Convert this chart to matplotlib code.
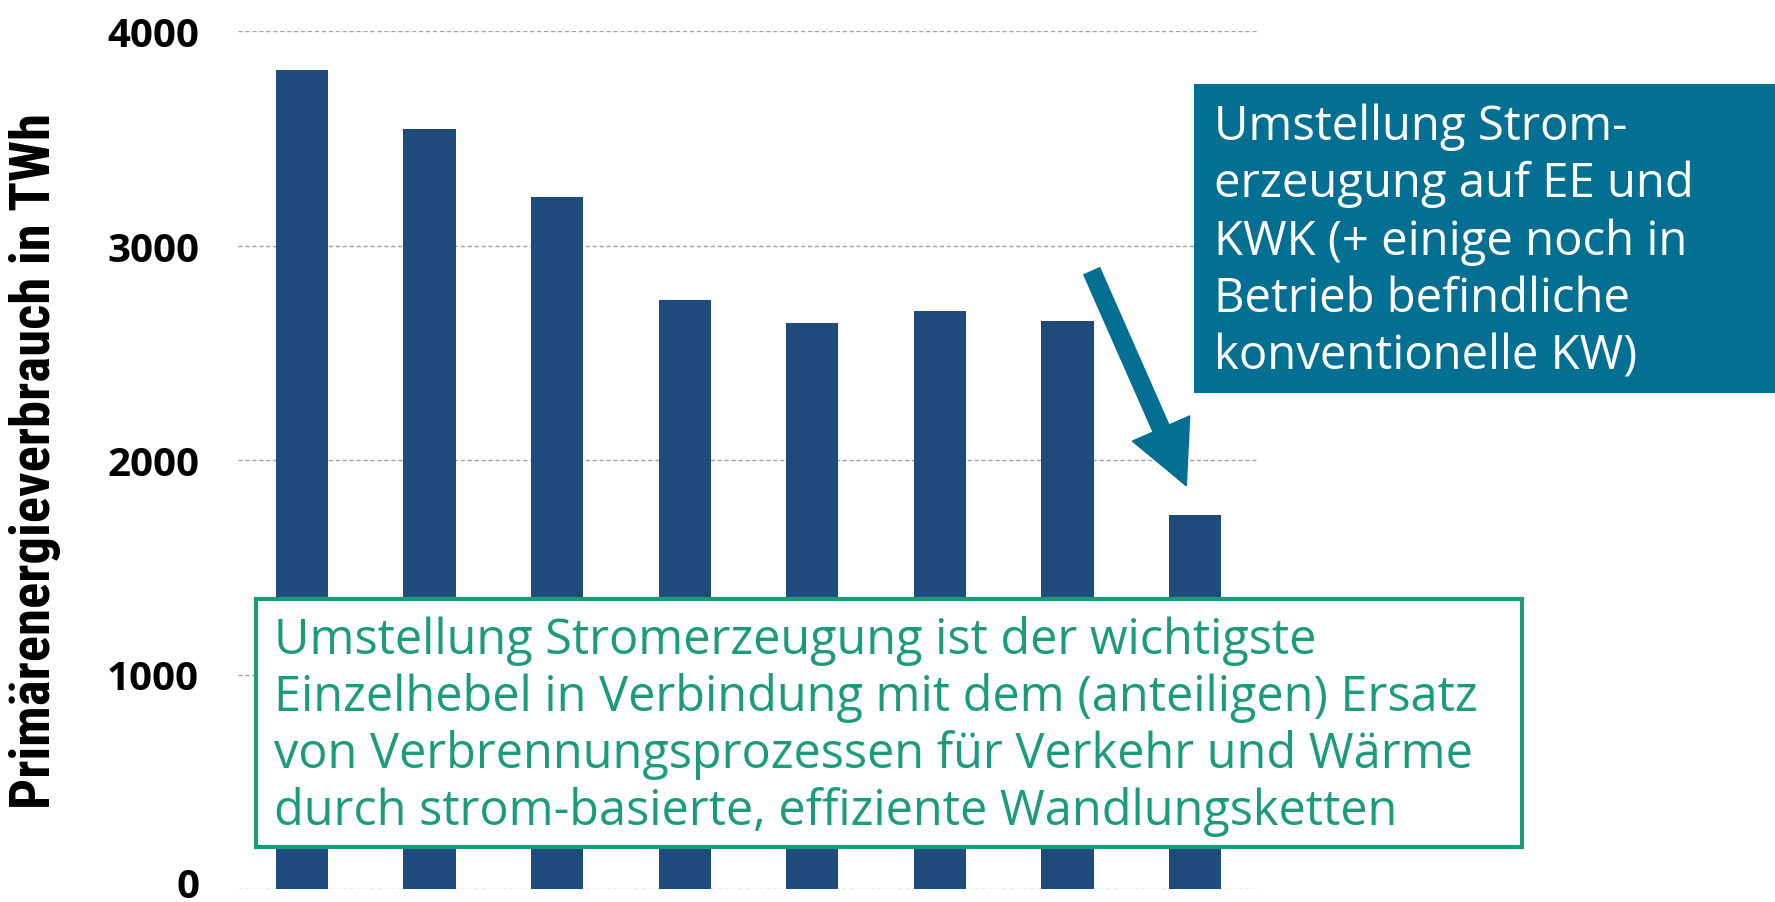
import matplotlib.pyplot as plt
from matplotlib import font_manager as fm
from matplotlib.patches import Rectangle, FancyArrowPatch
from matplotlib.transforms import ScaledTranslation

# Primärenergieverbrauch je Szenario/Jahr (TWh)
categories = ['1', '2', '3', '4', '5', '6', '7', '8']
values = [3820, 3545, 3225, 2745, 2640, 2695, 2650, 1745]
yticks = [0, 1000, 2000, 3000, 4000]

bar_color = '#1f4a7c'
box_blue = '#036f92'
green = '#1a9b7b'

green_lines = ['Umstellung Stromerzeugung ist der wichtigste',
               'Einzelhebel in Verbindung mit dem (anteiligen) Ersatz',
               'von Verbrennungsprozessen für Verkehr und Wärme',
               'durch strom-basierte, effiziente Wandlungsketten']
blue_lines = ['Umstellung Strom-',
              'erzeugung auf EE und',
              'KWK (+ einige noch in',
              'Betrieb befindliche',
              'konventionelle KW)']

# schmale Schrift fürs Achsenlabel, falls vorhanden
installed = {f.name for f in fm.fontManager.ttflist}
label_font = 'Roboto'
for cand in ['Liberation Sans Narrow', 'DejaVu Sans Condensed', 'Roboto Condensed']:
    if cand in installed:
        label_font = cand
        break

W, H = 1775, 903
fig = plt.figure(figsize=(W / 100, H / 100), dpi=100)
ax = fig.add_axes([238 / W, 1 - 890 / H, (1259 - 238) / W, (890 - 32) / H])

x = range(len(categories))
ax.bar(x, values, width=0.41, color=bar_color, zorder=2)
ax.set_xlim(-0.5, len(categories) - 0.5)
ax.set_ylim(0, 4000)
ax.set_yticks(yticks)
ax.set_yticklabels([str(t) for t in yticks], fontfamily='Open Sans',
                   fontweight='bold', fontsize=29)
ax.set_xticks([])
ax.tick_params(axis='y', length=0, pad=28)
ax.yaxis.grid(True, linestyle=(0, (3, 2)), color='#a0a0a0', linewidth=1, zorder=0)
for s in ax.spines.values():
    s.set_visible(False)

# die "0" sitzt im Original etwas höher, damit sie nicht am Rand abgeschnitten wird
zero_lbl = ax.yaxis.get_major_ticks()[0].label1
zero_lbl.set_transform(zero_lbl.get_transform()
                       + ScaledTranslation(0, 5 / 72, fig.dpi_scale_trans))

ylab = fig.text(35 / W, 1 - 461 / H, 'Primärenergieverbrauch in TWh', rotation=90,
                ha='center', va='center', fontsize=34, fontweight='bold',
                family=label_font)
# Größe so anpassen, dass das Label etwa 696 px lang ist
r = fig.canvas.get_renderer()
ext = ylab.get_window_extent(r)
ylab.set_fontsize(34 * 696 / ext.height)

# Pfeil
arrow = FancyArrowPatch((6.19, 2880), (6.93, 1880),
                        arrowstyle='simple,head_length=4.5,head_width=4.5,tail_width=1.25',
                        mutation_scale=10, color=box_blue, shrinkA=0, shrinkB=0, zorder=4)
ax.add_patch(arrow)

# blaue Box
fig.patches.append(Rectangle((1194 / W, 1 - 394 / H), (W - 1194) / W, (394 - 85) / H,
                             transform=fig.transFigure, facecolor=box_blue,
                             edgecolor='none', zorder=5))
for i, line in enumerate(blue_lines):
    fig.text(1214 / W, 1 - (140 + 57.5 * i) / H, line, ha='left', va='baseline',
             color='white', fontsize=34, family='Open Sans', zorder=6)

# grüne Box
fig.patches.append(Rectangle((256 / W, 1 - 848 / H), (1522 - 256) / W, (848 - 600) / H,
                             transform=fig.transFigure, facecolor='white',
                             edgecolor=green, linewidth=3, zorder=5))
for i, line in enumerate(green_lines):
    fig.text(274 / W, 1 - (654 + 57 * i) / H, line, ha='left', va='baseline',
             color=green, fontsize=35, family='Open Sans', zorder=6)

fig.savefig('out.png', dpi=100)
